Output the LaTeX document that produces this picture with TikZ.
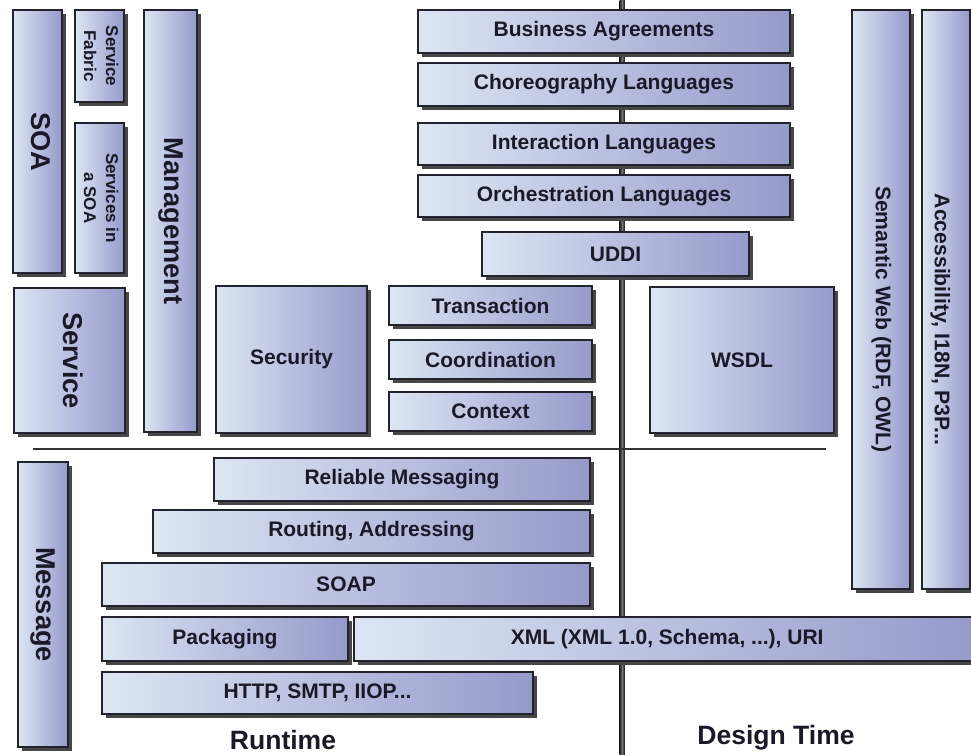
\documentclass[tikz,border=0pt]{standalone}
\usepackage{fontspec}
\setmainfont{Liberation Sans}
\usepackage{graphicx}
\usetikzlibrary{shadows}
\definecolor{bl}{RGB}{220,230,243}
\definecolor{br}{RGB}{150,154,203}
\definecolor{txt}{RGB}{25,25,40}
\definecolor{edge}{RGB}{35,35,45}
\tikzset{
  box/.style={draw=edge, line width=1.1pt, left color=bl, right color=br,
    inner sep=0pt, outer sep=0pt, text=txt, align=center,
    font=\bfseries\fontsize{15.75}{18}\selectfont,
    drop shadow={shadow xshift=3pt, shadow yshift=-3pt, fill=black!72, opacity=1}},
  big/.style={font=\bfseries\fontsize{20.4}{24}\selectfont},
  small/.style={font=\bfseries\fontsize{12.75}{16.5}\selectfont},
  sidefont/.style={font=\bfseries\fontsize{15.9}{19}\selectfont, text=txt, inner sep=0pt},
  caption/.style={font=\bfseries\fontsize{19.9}{24}\selectfont, text=txt, inner sep=0pt},
  rule/.style={draw=black!80, line width=1.1pt},
}
% \pbox[opts]{name}{x1}{y1}{x2}{y2}{text}
\newcommand\pbox[7][]{\node[box,#1,minimum width={(#5-#3)*0.75pt},minimum height={(#6-#4)*0.75pt}] (#2) at ({(#3+#5)/2},{(#4+#6)/2}) {#7};}
\newcommand\vtxt[1]{\rotatebox{-90}{\begin{tabular}{@{}c@{}}#1\end{tabular}}}
\begin{document}
\begin{tikzpicture}[x=0.75pt,y=-0.75pt]
\useasboundingbox (0,0) rectangle (971,755);
% central runtime / design time divider
\coordinate (vtop) at (622,0);
\coordinate (vbot) at (622,755);
\fill[left color=black!88, right color=black!88, middle color=black!55] (619.5,0) rectangle (624.5,755);
% horizontal divider
\coordinate (hl) at (33,449);
\coordinate (hr) at (826,449);
\draw[rule] (hl) -- (hr);

% left column
\pbox[big]{soa}{13}{10}{62}{273}{\vtxt{SOA}}
\pbox[small]{fabric}{75}{10}{124}{102}{\vtxt{Service\\Fabric}}
\pbox[small]{insoa}{75}{123}{124}{273}{\vtxt{Services in\\a SOA}}
\pbox[big]{mgmt}{144}{10}{197}{432}{\vtxt{Management}}
\pbox[big]{service}{14}{288}{125}{433}{\vtxt{Service}}
\pbox[big]{message}{18}{462}{68}{747}{\vtxt{Message}}

% upper stack
\pbox{ba}{418}{10}{790}{53}{Business Agreements}
\pbox{choreo}{418}{63}{790}{106}{Choreography Languages}
\pbox{inter}{418}{123}{790}{165}{Interaction Languages}
\pbox{orch}{418}{175}{790}{217}{Orchestration Languages}
\pbox{uddi}{482}{232}{749}{276}{UDDI}
\pbox{security}{216}{286}{367}{433}{Security}
\pbox{trans}{389}{286}{592}{325}{Transaction}
\pbox{coord}{389}{340}{592}{379}{Coordination}
\pbox{context}{389}{392}{592}{431}{Context}
\pbox{wsdl}{650}{287}{834}{433}{WSDL}

% right columns
\pbox[label={[sidefont,yshift=-15pt]center:\vtxt{Semantic Web (RDF, OWL)}}]{semweb}{852}{10}{910}{589}{}
\pbox[label={[sidefont,xshift=-4.5pt,yshift=-15pt]center:\vtxt{Accessibility, I18N, P3P...}}]{access}{922}{10}{970}{589}{}

% message stack
\pbox{reliable}{214}{458}{590}{501}{Reliable Messaging}
\pbox{routing}{153}{510}{590}{553}{Routing, Addressing}
\pbox{soap}{102}{563}{590}{606}{SOAP}
\pbox{pack}{102}{617}{348}{661}{Packaging}
\pbox{xml}{354}{617}{975}{661}{\hspace*{4pt}XML (XML 1.0, Schema, ...), URI}
\pbox{http}{102}{672}{533}{714}{HTTP, SMTP, IIOP...}

% captions
\node[caption] (runtime) at (283,740) {Runtime};
\node[caption] (design) at (776,738) {Design Time};
\end{tikzpicture}
\end{document}
